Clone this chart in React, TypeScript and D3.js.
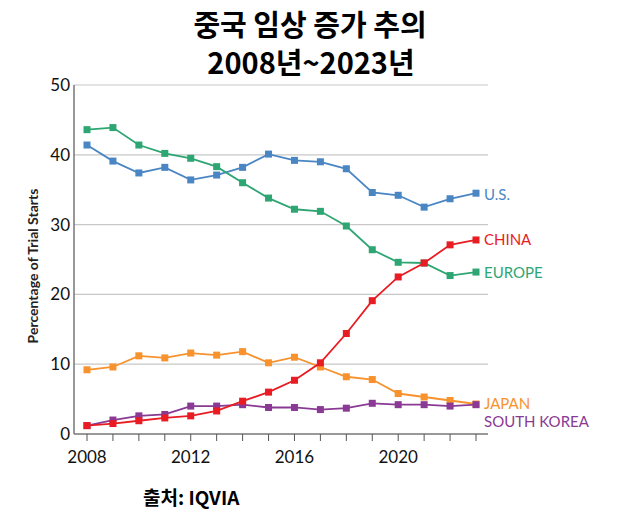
import React from "react";
import * as d3 from "d3";

const years = d3.range(2008, 2024);
const us = [41.4, 39.1, 37.4, 38.2, 36.4, 37.1, 38.2, 40.1, 39.2, 39.0, 38.0, 34.6, 34.2, 32.5, 33.7, 34.5];
const europe = [43.6, 43.9, 41.4, 40.2, 39.5, 38.3, 36.0, 33.8, 32.2, 31.9, 29.8, 26.4, 24.6, 24.5, 22.7, 23.2];
const china = [1.2, 1.5, 1.9, 2.3, 2.6, 3.3, 4.7, 6.0, 7.7, 10.2, 14.4, 19.1, 22.5, 24.5, 27.1, 27.8];
const japan = [9.2, 9.6, 11.2, 10.9, 11.6, 11.3, 11.8, 10.2, 11.0, 9.6, 8.2, 7.8, 5.8, 5.3, 4.8, 4.3];
const korea = [1.2, 2.0, 2.6, 2.8, 4.0, 4.0, 4.2, 3.8, 3.8, 3.5, 3.7, 4.4, 4.2, 4.2, 4.0, 4.2];
const yTicks = [0, 10, 20, 30, 40, 50];
const xTicks = [2008, 2012, 2016, 2020];

const series = [
  { name: "U.S.", values: us, color: "#4a86c4", labelY: 195 },
  { name: "EUROPE", values: europe, color: "#2ea673", labelY: 273 },
  { name: "JAPAN", values: japan, color: "#f7922d", labelY: 404 },
  { name: "SOUTH KOREA", values: korea, color: "#8a3a94", labelY: 422 },
  { name: "CHINA", values: china, color: "#e81c22", labelY: 240 },
];

const axisFont = "Lato, 'Open Sans', sans-serif";
const koFont = "'Noto Sans CJK KR', sans-serif";

export default function App() {
  const W = 623, H = 529;
  const x = d3.scaleLinear().domain([2008, 2023]).range([87, 476]);
  const y = d3.scaleLinear().domain([0, 50]).range([434, 85]);
  const axisLeft = 74, axisRight = 488;
  const line = d3.line<number>().x((_, i) => x(years[i])).y((v) => y(v));

  return (
    <svg width={W} height={H} style={{ position: "absolute", left: 0, top: 0, background: "#fff" }}>
      <text x={310} y={36} textAnchor="middle" fontFamily={koFont} fontWeight={700} fontSize={29} fill="#000">
        중국 임상 증가 추의
      </text>
      <text x={311} y={74} textAnchor="middle" fontFamily={koFont} fontWeight={700} fontSize={29} fill="#000">
        2008년~2023년
      </text>

      {yTicks.filter((t) => t > 0).map((t) => (
        <line key={t} x1={axisLeft} x2={axisRight} y1={y(t)} y2={y(t)} stroke="#c8c8c8" strokeWidth={1.2} />
      ))}
      <line x1={axisLeft} x2={axisLeft} y1={y(50)} y2={y(0)} stroke="#777" strokeWidth={1.5} />
      <line x1={axisLeft} x2={axisRight} y1={y(0)} y2={y(0)} stroke="#777" strokeWidth={1.5} />
      {years.map((yr) => (
        <line key={yr} x1={x(yr)} x2={x(yr)} y1={y(0)} y2={y(0) + 7} stroke="#555" strokeWidth={1} />
      ))}
      {yTicks.map((t) => (
        <text key={t} x={70} y={y(t) + 6} textAnchor="end" fontFamily={axisFont} fontSize={17} fill="#111">
          {t}
        </text>
      ))}
      {xTicks.map((t) => (
        <text key={t} x={x(t)} y={463} textAnchor="middle" fontFamily={axisFont} fontSize={17} fill="#111">
          {t}
        </text>
      ))}
      <text
        transform={`translate(38,266) rotate(-90)`}
        textAnchor="middle"
        fontFamily={axisFont}
        fontWeight={700}
        fontSize={14}
        fill="#222"
      >
        Percentage of Trial Starts
      </text>

      {series.map((s) => (
        <g key={s.name}>
          <path d={line(s.values) || ""} fill="none" stroke={s.color} strokeWidth={1.8} />
          {s.values.map((v, i) => (
            <rect key={i} x={x(years[i]) - 3.5} y={y(v) - 3.5} width={7} height={7} fill={s.color} />
          ))}
          <text x={484} y={s.labelY + 5} fontFamily={axisFont} fontSize={15} fill={s.color}>
            {s.name}
          </text>
        </g>
      ))}

      <text x={143} y={505} fontFamily={koFont} fontWeight={700} fontSize={19} fill="#000">
        출처: IQVIA
      </text>
    </svg>
  );
}
